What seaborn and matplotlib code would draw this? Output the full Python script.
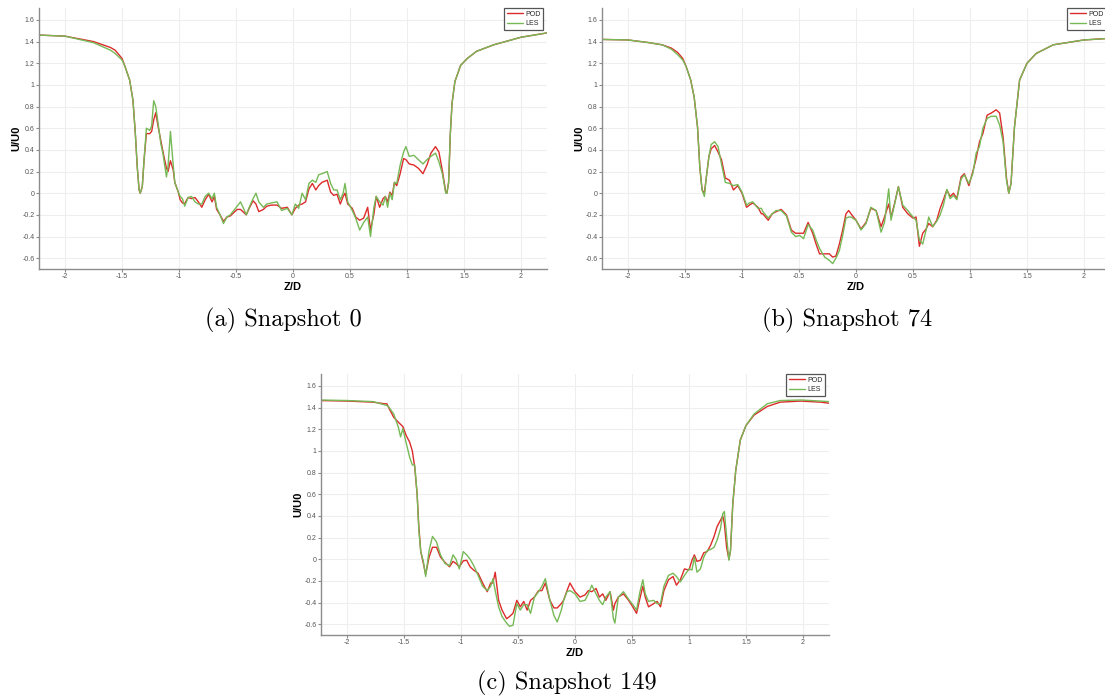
import numpy as np
import pandas as pd
import matplotlib
matplotlib.use("Agg")
import matplotlib.pyplot as plt
import seaborn as sns

# ---------------------------------------------------------------------------
# Wake velocity profiles U/U0 along Z/D: POD reconstruction vs. LES
# ---------------------------------------------------------------------------

# Snapshot 0
z_a = [-2.228, -2.0, -1.75, -1.60, -1.56, -1.50, -1.477, -1.433, -1.404, -1.383,
       -1.366, -1.35, -1.34, -1.322, -1.307, -1.286, -1.257, -1.24, -1.222, -1.204,
       -1.184, -1.16, -1.14, -1.11, -1.096, -1.075, -1.05, -1.037, -1.006, -0.99,
       -0.97, -0.95, -0.92, -0.89, -0.86, -0.83, -0.80, -0.77, -0.74, -0.71,
       -0.69, -0.67, -0.64, -0.61, -0.58, -0.55, -0.52, -0.49, -0.46, -0.43,
       -0.41, -0.38, -0.35, -0.325, -0.30, -0.26, -0.23, -0.19, -0.14, -0.10,
       -0.05, -0.01, 0.02, 0.05, 0.08, 0.11, 0.14, 0.17, 0.20, 0.225,
       0.254, 0.30, 0.33, 0.357, 0.386, 0.415, 0.44, 0.456, 0.48, 0.52,
       0.55, 0.585, 0.62, 0.655, 0.68, 0.71, 0.73, 0.76, 0.79, 0.81,
       0.83, 0.85, 0.87, 0.89, 0.91, 0.94, 0.97, 0.99, 1.02, 1.06,
       1.10, 1.14, 1.175, 1.21, 1.25, 1.28, 1.31, 1.34, 1.35, 1.365,
       1.38, 1.395, 1.42, 1.47, 1.53, 1.61, 1.76, 2.0, 2.228]
pod_a = [1.46, 1.45, 1.40, 1.345, 1.32, 1.245, 1.18, 1.045, 0.86, 0.55,
         0.24, 0.03, 0.0, 0.06, 0.30, 0.55, 0.55, 0.57, 0.675, 0.743,
         0.62, 0.49, 0.38, 0.23, 0.20, 0.30, 0.21, 0.10, 0.01, -0.06,
         -0.09, -0.096, -0.04, -0.05, -0.04, -0.08, -0.13, -0.06, -0.01, -0.08,
         -0.03, -0.15, -0.20, -0.26, -0.22, -0.21, -0.18, -0.15, -0.15, -0.18,
         -0.20, -0.13, -0.07, -0.10, -0.17, -0.15, -0.12, -0.11, -0.11, -0.14,
         -0.13, -0.20, -0.14, -0.11, -0.10, -0.08, 0.04, 0.09, 0.03, 0.07,
         0.10, 0.12, 0.01, -0.02, -0.01, -0.10, -0.03, 0.0, -0.10, -0.14,
         -0.22, -0.25, -0.23, -0.13, -0.34, -0.19, -0.03, -0.13, -0.05, -0.03,
         -0.08, 0.01, -0.02, 0.10, 0.07, 0.18, 0.32, 0.31, 0.27, 0.26,
         0.23, 0.18, 0.26, 0.37, 0.43, 0.38, 0.21, 0.01, 0.0, 0.10,
         0.55, 0.83, 1.03, 1.18, 1.245, 1.31, 1.37, 1.44, 1.48]
les_a = [1.46, 1.45, 1.39, 1.32, 1.29, 1.23, 1.18, 1.045, 0.86, 0.55,
         0.24, 0.03, 0.0, 0.06, 0.30, 0.60, 0.58, 0.62, 0.854, 0.80,
         0.65, 0.46, 0.36, 0.15, 0.25, 0.57, 0.25, 0.10, 0.01, -0.03,
         -0.05, -0.12, -0.04, -0.03, -0.08, -0.10, -0.10, -0.03, 0.0, -0.05,
         0.0, -0.13, -0.20, -0.28, -0.22, -0.20, -0.16, -0.12, -0.08, -0.15,
         -0.20, -0.12, -0.05, 0.0, -0.08, -0.13, -0.10, -0.09, -0.08, -0.16,
         -0.14, -0.20, -0.10, -0.14, 0.0, -0.06, 0.09, 0.12, 0.10, 0.17,
         0.18, 0.20, 0.09, 0.03, 0.03, -0.06, 0.0, 0.09, -0.08, -0.16,
         -0.23, -0.34, -0.27, -0.22, -0.40, -0.13, -0.03, -0.08, -0.11, -0.03,
         -0.13, 0.0, -0.06, 0.10, 0.09, 0.26, 0.38, 0.43, 0.34, 0.35,
         0.31, 0.27, 0.31, 0.34, 0.37, 0.29, 0.18, 0.0, 0.0, 0.10,
         0.55, 0.83, 1.03, 1.18, 1.245, 1.31, 1.37, 1.44, 1.48]

# Snapshot 74
z_b = [-2.237, -2.0, -1.815, -1.70, -1.62, -1.565, -1.52, -1.49, -1.45, -1.42,
       -1.39, -1.37, -1.35, -1.33, -1.316, -1.29, -1.27, -1.24, -1.21, -1.18,
       -1.146, -1.11, -1.075, -1.037, -1.0, -0.96, -0.935, -0.905, -0.86, -0.83,
       -0.817, -0.77, -0.735, -0.70, -0.656, -0.61, -0.567, -0.53, -0.494, -0.46,
       -0.42, -0.38, -0.35, -0.32, -0.275, -0.234, -0.205, -0.176, -0.146, -0.117,
       -0.088, -0.064, -0.044, 0.0, 0.044, 0.088, 0.13, 0.176, 0.22, 0.25,
       0.287, 0.307, 0.337, 0.372, 0.41, 0.454, 0.50, 0.527, 0.556, 0.585,
       0.615, 0.638, 0.673, 0.708, 0.738, 0.767, 0.797, 0.826, 0.855, 0.884,
       0.922, 0.95, 0.99, 1.025, 1.054, 1.083, 1.113, 1.15, 1.186, 1.23,
       1.26, 1.29, 1.32, 1.34, 1.36, 1.39, 1.435, 1.50, 1.58, 1.73,
       2.0, 2.228]
pod_b = [1.42, 1.415, 1.39, 1.37, 1.34, 1.30, 1.245, 1.17, 1.045, 0.89,
         0.61, 0.24, 0.03, 0.0, 0.12, 0.34, 0.41, 0.44, 0.38, 0.31,
         0.14, 0.12, 0.03, 0.07, 0.0, -0.13, -0.11, -0.09, -0.13, -0.19,
         -0.19, -0.25, -0.19, -0.17, -0.15, -0.20, -0.34, -0.37, -0.37, -0.37,
         -0.27, -0.37, -0.47, -0.56, -0.56, -0.56, -0.59, -0.58, -0.47, -0.34,
         -0.19, -0.16, -0.19, -0.25, -0.33, -0.27, -0.14, -0.16, -0.31, -0.22,
         -0.10, -0.22, -0.10, 0.06, -0.13, -0.19, -0.23, -0.22, -0.49, -0.37,
         -0.33, -0.28, -0.31, -0.25, -0.14, -0.06, 0.03, -0.03, 0.0, -0.05,
         0.15, 0.18, 0.07, 0.20, 0.32, 0.475, 0.55, 0.72, 0.74, 0.77,
         0.74, 0.52, 0.14, 0.0, 0.09, 0.61, 1.045, 1.20, 1.29, 1.37,
         1.415, 1.43]
les_b = [1.42, 1.415, 1.39, 1.37, 1.33, 1.28, 1.23, 1.17, 1.045, 0.89,
         0.61, 0.24, 0.03, -0.03, 0.12, 0.34, 0.45, 0.475, 0.43, 0.27,
         0.10, 0.09, 0.07, 0.08, 0.01, -0.11, -0.09, -0.08, -0.14, -0.14,
         -0.17, -0.23, -0.19, -0.16, -0.16, -0.21, -0.36, -0.40, -0.39, -0.42,
         -0.29, -0.34, -0.43, -0.51, -0.59, -0.62, -0.65, -0.60, -0.53, -0.39,
         -0.23, -0.22, -0.22, -0.25, -0.34, -0.28, -0.13, -0.16, -0.36, -0.27,
         0.04, -0.25, -0.11, 0.06, -0.11, -0.16, -0.22, -0.25, -0.43, -0.47,
         -0.34, -0.22, -0.31, -0.26, -0.20, -0.11, 0.035, -0.05, -0.02, -0.06,
         0.13, 0.17, 0.09, 0.18, 0.37, 0.43, 0.60, 0.69, 0.71, 0.71,
         0.63, 0.475, 0.12, 0.0, 0.09, 0.61, 1.045, 1.20, 1.29, 1.37,
         1.415, 1.43]

# Snapshot 149
z_c = [-2.24, -2.0, -1.77, -1.67, -1.65, -1.63, -1.59, -1.55, -1.53, -1.51,
       -1.48, -1.45, -1.427, -1.406, -1.385, -1.37, -1.353, -1.33, -1.31, -1.28,
       -1.25, -1.215, -1.18, -1.14, -1.10, -1.07, -1.044, -1.015, -0.98, -0.95,
       -0.92, -0.89, -0.85, -0.81, -0.77, -0.74, -0.72, -0.70, -0.67, -0.64,
       -0.60, -0.575, -0.544, -0.51, -0.48, -0.45, -0.42, -0.39, -0.356, -0.32,
       -0.29, -0.26, -0.22, -0.185, -0.156, -0.12, -0.10, -0.07, -0.044, 0.0,
       0.044, 0.088, 0.117, 0.147, 0.185, 0.214, 0.243, 0.27, 0.308, 0.337,
       0.35, 0.38, 0.425, 0.47, 0.507, 0.54, 0.57, 0.595, 0.616, 0.645,
       0.69, 0.72, 0.75, 0.78, 0.82, 0.86, 0.89, 0.924, 0.96, 1.0,
       1.026, 1.047, 1.07, 1.10, 1.13, 1.16, 1.19, 1.22, 1.246, 1.276,
       1.296, 1.31, 1.33, 1.35, 1.364, 1.384, 1.41, 1.45, 1.50, 1.57,
       1.686, 1.80, 1.98, 2.155, 2.23]
pod_c = [1.465, 1.46, 1.45, 1.435, 1.435, 1.39, 1.31, 1.265, 1.245, 1.225,
         1.14, 1.08, 1.0, 0.85, 0.605, 0.30, 0.07, -0.04, -0.14, 0.02,
         0.11, 0.11, 0.02, -0.03, -0.07, -0.02, -0.04, -0.07, -0.015, -0.01,
         -0.07, -0.10, -0.13, -0.22, -0.30, -0.22, -0.22, -0.12, -0.38, -0.47,
         -0.55, -0.53, -0.50, -0.38, -0.44, -0.39, -0.47, -0.38, -0.35, -0.29,
         -0.29, -0.22, -0.38, -0.45, -0.45, -0.41, -0.38, -0.29, -0.22, -0.30,
         -0.35, -0.33, -0.29, -0.30, -0.27, -0.35, -0.32, -0.38, -0.30, -0.47,
         -0.41, -0.35, -0.32, -0.38, -0.44, -0.50, -0.36, -0.25, -0.35, -0.44,
         -0.41, -0.39, -0.44, -0.29, -0.19, -0.16, -0.24, -0.19, -0.09, -0.10,
         -0.01, 0.04, -0.02, -0.01, 0.06, 0.07, 0.13, 0.21, 0.30, 0.36,
         0.40, 0.33, 0.11, 0.0, 0.08, 0.51, 0.82, 1.10, 1.235, 1.33,
         1.41, 1.45, 1.46, 1.45, 1.44]
les_c = [1.47, 1.465, 1.455, 1.425, 1.42, 1.40, 1.34, 1.22, 1.13, 1.205,
         1.07, 0.94, 0.87, 0.87, 0.605, 0.27, 0.07, -0.02, -0.16, 0.08,
         0.21, 0.16, 0.04, -0.04, -0.06, 0.04, 0.0, -0.09, 0.07, 0.04,
         0.0, -0.055, -0.15, -0.25, -0.29, -0.25, -0.18, -0.29, -0.44, -0.53,
         -0.59, -0.62, -0.61, -0.41, -0.47, -0.42, -0.42, -0.50, -0.35, -0.30,
         -0.25, -0.18, -0.38, -0.52, -0.58, -0.47, -0.38, -0.30, -0.29, -0.32,
         -0.39, -0.38, -0.32, -0.24, -0.32, -0.38, -0.42, -0.35, -0.30, -0.55,
         -0.59, -0.35, -0.30, -0.37, -0.42, -0.47, -0.30, -0.19, -0.32, -0.39,
         -0.38, -0.41, -0.41, -0.25, -0.15, -0.13, -0.16, -0.21, -0.15, -0.09,
         -0.10, 0.02, -0.12, -0.09, 0.02, 0.08, 0.09, 0.11, 0.175, 0.28,
         0.42, 0.44, 0.21, -0.01, 0.08, 0.51, 0.82, 1.10, 1.235, 1.34,
         1.435, 1.465, 1.47, 1.46, 1.455]

captions = ["(a) Snapshot 0", "(b) Snapshot 74", "(c) Snapshot 149"]
series_names = ["POD", "LES"]
x_ticks = [-2, -1.5, -1, -0.5, 0, 0.5, 1, 1.5, 2]
y_ticks = [-0.6, -0.4, -0.2, 0, 0.2, 0.4, 0.6, 0.8, 1, 1.2, 1.4, 1.6]

palette = {"POD": "#dc2b2b", "LES": "#76b956"}

sns.set_theme(style="whitegrid")
plt.rcParams["font.family"] = ["Liberation Sans", "DejaVu Sans"]
plt.rcParams["axes.unicode_minus"] = False

W, H = 1105, 700
fig = plt.figure(figsize=(W / 100, H / 100), dpi=100)
fig.patch.set_facecolor("white")


def px_axes(left, top, width, height):
    return fig.add_axes([left / W, 1 - (top + height) / H, width / W, height / H])


def fmt(v):
    return f"{round(v, 2):g}"


# (axes box in pixels, caption centre in pixels)
layout = [
    ((39, 8, 508, 261), (283, 320)),
    ((602, 8, 508, 261), (847, 320)),
    ((321, 374, 508, 261), (567, 683)),
]
profiles = [(z_a, pod_a, les_a), (z_b, pod_b, les_b), (z_c, pod_c, les_c)]

for (z, pod, les), (box, cap_pos), caption in zip(profiles, layout, captions):
    ax = px_axes(*box)
    n = len(z)
    df = pd.DataFrame({
        "Z/D": np.concatenate([z, z]),
        "U/U0": np.concatenate([pod, les]),
        "case": [series_names[0]] * n + [series_names[1]] * n,
    })
    sns.lineplot(data=df, x="Z/D", y="U/U0", hue="case", hue_order=series_names,
                 palette=palette, estimator=None, sort=False, linewidth=1.0, ax=ax)

    ax.set_xlim(-2.228, 2.228)
    ax.set_ylim(-0.70, 1.71)
    ax.set_xticks(x_ticks)
    ax.set_xticklabels([fmt(v) for v in x_ticks])
    ax.set_yticks(y_ticks)
    ax.set_yticklabels([fmt(v) for v in y_ticks])
    ax.tick_params(axis="both", which="both", bottom=True, left=True, length=2.2,
                   width=0.8, color="#8c8c8c", labelsize=5, labelcolor="#555555",
                   pad=1, direction="out")

    ax.grid(True, color="#eeeeee", linewidth=0.8)
    ax.set_facecolor("white")
    for side in ("top", "right"):
        ax.spines[side].set_visible(False)
    for side in ("left", "bottom"):
        ax.spines[side].set_color("#8c8c8c")
        ax.spines[side].set_linewidth(1.0)

    ax.set_xlabel("Z/D", fontsize=8, fontweight="bold", color="black")
    ax.set_ylabel("U/U0", fontsize=8, fontweight="bold", color="black")
    ax.xaxis.set_label_coords(0.5, -13 / 261)
    ax.yaxis.set_label_coords(-18 / 508, 0.5)

    handles, labels = ax.get_legend_handles_labels()
    leg = ax.legend(handles, labels, loc="upper right", bbox_to_anchor=(0.993, 1.0),
                    borderaxespad=0, fontsize=5, frameon=True, fancybox=False,
                    framealpha=1, edgecolor="#555555", handlelength=2.3,
                    handletextpad=0.3, borderpad=0.4, labelspacing=0.35)
    leg.get_frame().set_linewidth(0.9)
    for line in leg.get_lines():
        line.set_linewidth(1.0)

    fig.text(cap_pos[0] / W, 1 - cap_pos[1] / H, caption, ha="center", va="center",
             fontsize=17.5, family="cmr10", color="black")

fig.savefig("out.png", dpi=100)
